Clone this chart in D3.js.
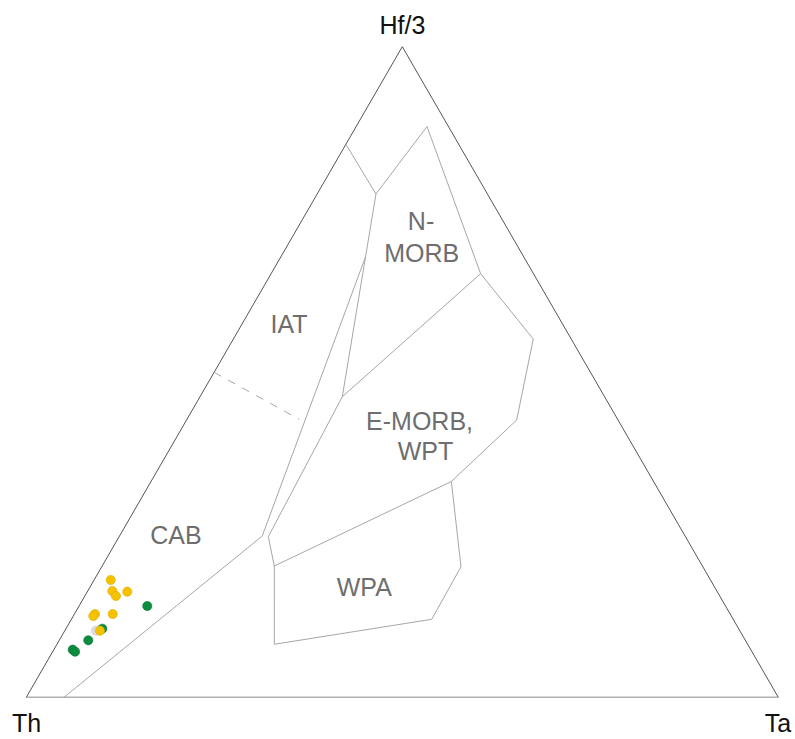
<!DOCTYPE html>
<html>
<head>
<meta charset="utf-8">
<script src="https://cdn.jsdelivr.net/npm/d3@7"></script>
<style>
  html, body { margin: 0; padding: 0; background: #fff; }
  svg { display: block; }
  text { font-family: "Liberation Sans", Arial, sans-serif; }
</style>
</head>
<body>
<svg id="chart" width="795" height="739"></svg>
<script>
// Wood (1980) Hf/3 - Th - Ta discrimination diagram.
// Every point is given as [Hf/3, Th, Ta] proportions.

const apexLabels = ["Hf/3", "Th", "Ta"];

// Field boundaries (solid polylines)
const fieldLines = [
  [[0.850, 0.150, 0.000], [0.7736, 0.1482, 0.0782]],
  [[0.7736, 0.1482, 0.0782], [0.8773, 0.0285, 0.0942], [0.6511, 0.0703, 0.2786]],
  [[0.7736, 0.1482, 0.0782], [0.4620, 0.3488, 0.1892]],
  [[0.6511, 0.0703, 0.2786], [0.4620, 0.3488, 0.1892]],
  [[0.6773, 0.2102, 0.1125], [0.2479, 0.5623, 0.1898], [0.000, 0.9499, 0.0501]],
  [[0.4620, 0.3488, 0.1892], [0.2468, 0.5548, 0.1984], [0.2018, 0.5693, 0.2289]],
  [[0.2018, 0.5693, 0.2289], [0.0815, 0.6294, 0.2891], [0.1199, 0.4009, 0.4792],
   [0.2007, 0.3216, 0.4777], [0.3317, 0.2689, 0.3994]],
  [[0.2018, 0.5693, 0.2289], [0.3317, 0.2689, 0.3994]],
  [[0.3317, 0.2689, 0.3994], [0.4262, 0.1348, 0.4390], [0.5507, 0.0505, 0.3988],
   [0.6511, 0.0703, 0.2786]]
];

// IAT / CAB divide (dashed)
const dashedLines = [
  [[0.4995, 0.5005, 0.000], [0.4273, 0.4234, 0.1493]]
];

// Field names and their text baselines [Hf/3, Th, Ta]
const fieldNames = ["N-", "MORB", "IAT", "E-MORB,", "WPT", "CAB", "WPA"];
const fieldAnchors = [
  [0.7183, 0.1159, 0.1658],
  [0.6695, 0.1394, 0.1911],
  [0.5604, 0.3705, 0.0691],
  [0.4109, 0.2716, 0.3175],
  [0.3647, 0.2868, 0.3485],
  [0.2356, 0.6831, 0.0813],
  [0.1557, 0.4727, 0.3716]
];

// Samples
const graySamples = [
  [0.1024, 0.8561, 0.0415]
];
const greenSamples = [
  [0.1403, 0.7690, 0.0907],
  [0.1054, 0.8462, 0.0484],
  [0.0876, 0.8738, 0.0386],
  [0.0732, 0.9017, 0.0251],
  [0.0701, 0.9001, 0.0298]
];
const yellowSamples = [
  [0.1803, 0.7976, 0.0221],
  [0.1634, 0.8039, 0.0327],
  [0.1557, 0.8029, 0.0414],
  [0.1623, 0.7846, 0.0531],
  [0.1280, 0.8446, 0.0274],
  [0.1250, 0.8484, 0.0266],
  [0.1280, 0.8211, 0.0509],
  [0.1024, 0.8508, 0.0468]
];

const svg = d3.select("#chart");

// horizontal position = Ta + Hf/2, vertical position = Hf
const xScale = d3.scaleLinear().domain([0, 1]).range([26.3, 778.3]);
const yScale = d3.scaleLinear().domain([0, 1]).range([697.3, 46.7]);

function project(p) {
  const s = p[0] + p[1] + p[2];
  const hf = p[0] / s, ta = p[2] / s;
  return [xScale(ta + hf / 2), yScale(hf)];
}

const line = d3.line().x(d => project(d)[0]).y(d => project(d)[1]);

// Triangle frame
const apexHf = [1, 0, 0], apexTh = [0, 1, 0], apexTa = [0, 0, 1];
svg.append("path")
  .attr("d", line([apexTh, apexTa]))
  .attr("fill", "none").attr("stroke", "#b0b0b0").attr("stroke-width", 1.6);
svg.append("path")
  .attr("d", line([apexTh, apexHf, apexTa]))
  .attr("fill", "none").attr("stroke", "#555").attr("stroke-width", 1);

// Field boundaries
svg.append("g").selectAll("path").data(fieldLines).join("path")
  .attr("d", line)
  .attr("fill", "none").attr("stroke", "#a6a6a6").attr("stroke-width", 1);

svg.append("g").selectAll("path").data(dashedLines).join("path")
  .attr("d", line)
  .attr("fill", "none").attr("stroke", "#a6a6a6").attr("stroke-width", 1)
  .attr("stroke-dasharray", "8,8");

// Field names
svg.append("g").selectAll("text").data(fieldNames).join("text")
  .attr("x", (d, i) => project(fieldAnchors[i])[0])
  .attr("y", (d, i) => project(fieldAnchors[i])[1])
  .attr("text-anchor", "middle")
  .attr("font-size", 25)
  .attr("fill", "#6e6e6e")
  .text(d => d);

// Apex labels
const apexPos = [[402.5, 34.3], [26.7, 731.7], [778, 731.7]];
svg.append("g").selectAll("text").data(apexLabels).join("text")
  .attr("x", (d, i) => apexPos[i][0])
  .attr("y", (d, i) => apexPos[i][1])
  .attr("text-anchor", "middle")
  .attr("font-size", 25)
  .attr("fill", "#111")
  .text(d => d);

// Sample symbols
function drawSamples(data, fill, stroke) {
  svg.append("g").selectAll("circle").data(data).join("circle")
    .attr("cx", d => project(d)[0])
    .attr("cy", d => project(d)[1])
    .attr("r", 4.6)
    .attr("fill", fill)
    .attr("stroke", stroke)
    .attr("stroke-width", 0.6);
}
drawSamples(graySamples, "#dcdcdc", "#c8c8c8");
drawSamples(greenSamples, "#0b8c3e", "#087532");
drawSamples(yellowSamples, "#f6c200", "#e0ab00");
</script>
</body>
</html>
